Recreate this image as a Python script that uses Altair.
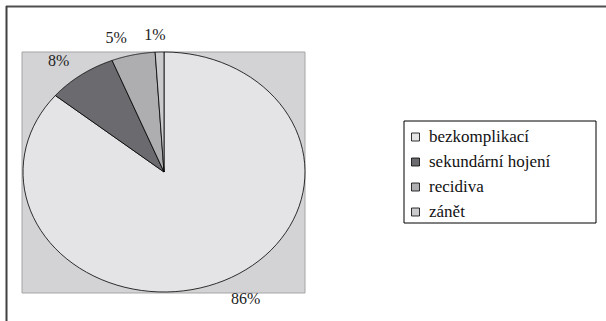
import altair as alt
import pandas as pd

# ---- data ----
categories = ["bezkomplikací", "sekundární hojení", "recidiva", "zánět"]
values = [86, 8, 5, 1]

# ---- styles ----
colors = ["#e4e4e6", "#6b6b6f", "#aeaeb1", "#cbcbce"]
FONT = "Liberation Serif"

total = sum(values)
starts = []
acc = 0
for v in values:
    starts.append(acc)
    acc += v

N = 90  # resolution of each wedge outline
rows = []
for c, v, s in zip(categories, values, starts):
    for k in range(N + 2):
        rows.append({"cat": c, "value": v, "start": s, "k": k})
poly_df = pd.DataFrame(rows)
slice_df = pd.DataFrame({"cat": categories, "value": values, "start": starts})

xs = alt.Scale(domain=[-1, 1], range=[23, 305])
ys = alt.Scale(domain=[-1, 1], range=[292, 52])
fill_scale = alt.Scale(domain=categories, range=colors)

one = alt.Data(values=[{}])

frame_top = alt.Chart(one).mark_rule(color="#505050", strokeWidth=2).encode(
    x=alt.value(6), x2=alt.value(606), y=alt.value(6.5)
)
frame_left = alt.Chart(one).mark_rule(color="#404040", strokeWidth=2).encode(
    x=alt.value(6.5), y=alt.value(6), y2=alt.value(321)
)

plot_area = alt.Chart(one).mark_rect(fill="#d3d3d5", stroke="#a5a5a7", strokeWidth=1).encode(
    x=alt.value(22), x2=alt.value(305), y=alt.value(52), y2=alt.value(293)
)

pie = alt.Chart(poly_df).transform_calculate(
    ang=f"2*PI*(datum.start + (datum.k - 1) / {N} * datum.value) / {total}",
).transform_calculate(
    ux="datum.k == 0 ? 0 : sin(datum.ang)",
    uy="datum.k == 0 ? 0 : cos(datum.ang)",
).mark_line(interpolate="linear-closed", stroke="black", strokeWidth=0.8).encode(
    x=alt.X("ux:Q", scale=xs, axis=None),
    y=alt.Y("uy:Q", scale=ys, axis=None),
    fill=alt.Fill("cat:N", scale=fill_scale, legend=None),
    detail="cat:N",
    order=alt.Order("k:Q"),
)

labels = alt.Chart(slice_df).transform_calculate(
    mid=f"2*PI*(datum.start + datum.value/2)/{total}",
    pct=f"round(datum.value/{total}*100) + '%'",
).transform_calculate(
    lx="sin(datum.mid)*1.1 + (sin(datum.mid) >= 0 ? 0.11 : (datum.mid > 6.2 ? -0.03 : -0.1))",
    ly="cos(datum.mid)*1.14 - (cos(datum.mid) < 0 ? 0.03 : 0)",
).mark_text(font=FONT, fontSize=16, color="#222222", baseline="middle", align="center").encode(
    x=alt.X("lx:Q", scale=xs, axis=None),
    y=alt.Y("ly:Q", scale=ys, axis=None),
    text="pct:N",
)

legend_y = alt.Scale(type="point", domain=categories, range=[137, 212], padding=0)

leg_box = alt.Chart(one).mark_rect(fill="white", stroke="black", strokeWidth=1).encode(
    x=alt.value(404), x2=alt.value(596), y=alt.value(121), y2=alt.value(223)
)
leg_sw = alt.Chart(slice_df).mark_square(size=64, stroke="black", strokeWidth=0.8, opacity=1).encode(
    x=alt.value(415.5),
    y=alt.Y("cat:N", scale=legend_y, axis=None),
    fill=alt.Fill("cat:N", scale=fill_scale, legend=None),
)
leg_tx = alt.Chart(slice_df).mark_text(font=FONT, fontSize=17, align="left", baseline="middle", color="#111111").encode(
    x=alt.value(429),
    y=alt.Y("cat:N", scale=legend_y, axis=None),
    text="cat:N",
)

chart = alt.layer(
    frame_top, frame_left, plot_area, pie, labels, leg_box, leg_sw, leg_tx
).resolve_scale(
    x="independent", y="independent"
).properties(
    width=606, height=321, padding=0, autosize="none", background="white"
).configure_view(stroke=None)

chart.save("out.html", embed_options={"renderer": "svg", "actions": False})
